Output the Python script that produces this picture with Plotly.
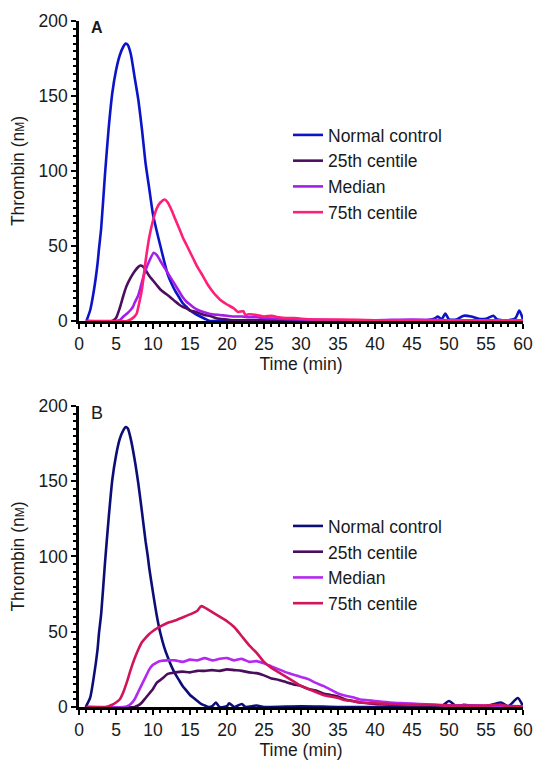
import plotly.graph_objects as go

# ---------------- Panel A data ----------------
a_normal_t = [1, 1.5, 2, 2.5, 2.7, 3, 3.5, 4, 4.5, 5, 5.5, 6, 6.3, 6.6, 7, 7.5, 8, 8.5, 9, 9.5, 10,
              10.5, 11, 11.5, 12, 12.5, 13, 13.5, 14, 14.5, 15, 16, 17, 17.7, 20, 25, 30, 35, 40, 45,
              47, 48, 48.5, 49, 49.5, 50, 51, 52, 53, 54, 55, 56, 56.5, 58, 59, 59.5, 60]
a_normal_v = [0, 7, 20, 38, 48, 62, 97, 128, 152, 167, 177, 183, 185, 184, 178, 163, 148, 128, 105, 88, 71,
              60, 50, 40, 31, 25, 20, 16, 12, 9.5, 7, 4, 1.5, 0, 0.5, 0, 0.5, 0, 0.5, 0,
              0.5, 1.5, 3, 1, 5, 1, 1, 3.5, 3, 1.5, 1.5, 3.5, 1, 0.5, 2, 7, 1]

a_p25_t = [1, 4.5, 5, 5.5, 6, 6.4, 7, 7.5, 8, 8.3, 8.6, 9, 9.5, 10, 10.5, 11, 11.5, 12.3, 13, 13.5,
           14, 14.5, 15, 15.5, 16.4, 17, 17.7, 18.5, 19, 20, 21, 25, 30, 40, 50, 60]
a_p25_v = [0, 0, 2, 8.5, 17, 23, 29, 33, 36, 37, 36.5, 34, 30, 27, 24, 21, 19, 16, 13, 11,
           9.5, 8.5, 7, 6.5, 5, 4, 3.3, 2, 1.5, 1, 0.5, 0.5, 0.5, 0.5, 0.5, 0.5]

a_med_t = [1, 5, 5.5, 6, 6.5, 7, 7.3, 7.5, 8, 8.24, 8.5, 9, 9.5, 10.1, 10.5, 11, 11.5, 12, 12.3, 13,
           13.5, 14, 14.5, 15, 15.5, 16, 16.8, 17.5, 18, 19, 20, 21, 22, 23, 24, 25, 27, 30, 35, 40,
           45, 50, 55, 60]
a_med_v = [0, 0, 0.5, 3, 5, 7.5, 9.5, 12, 17, 21, 26, 34, 40, 45.5, 44, 40, 36, 32, 29.5, 24,
           20, 16, 13, 11, 9, 7.5, 6, 5, 4.5, 4, 3.5, 3, 3, 2.5, 2.5, 2, 1.5, 1, 0.5, 0.5,
           1, 0.5, 0.5, 0.5]

a_p75_t = [1, 6.5, 7, 7.5, 7.8, 8, 8.5, 9, 9.5, 10, 10.5, 11, 11.6, 12, 12.5, 13, 13.6, 14, 14.5, 15,
           15.5, 16, 16.5, 17.3, 18, 18.5, 19.1, 20, 20.9, 21.5, 22.2, 22.5, 23, 24, 25, 26, 27, 28,
           29, 30, 32, 35, 40, 45, 50, 55, 60]
a_p75_v = [0, 0, 1, 3, 5, 9, 21, 40, 56, 67, 75, 79, 81, 79, 74, 68, 61, 56, 51, 46,
           41, 36, 32, 25, 20, 17, 14, 11, 8.5, 6, 6.5, 4, 4.5, 4, 3, 3.5, 2.5, 2,
           2, 1.5, 1, 1, 0.5, 0.5, 0.5, 0.5, 0.5]

# ---------------- Panel B data ----------------
b_normal_t = [0.9, 1.5, 2, 2.5, 2.7, 3, 3.5, 4, 4.5, 5, 5.5, 6, 6.3, 6.6, 7, 7.5, 8, 8.5, 9, 9.3,
              9.5, 10, 10.5, 11, 11.5, 12, 12.5, 13, 13.5, 14, 14.5, 15, 15.5, 16, 16.5, 17, 17.5,
              18, 18.5, 19, 20, 20.3, 21, 22, 22.5, 24, 25, 30, 35, 40, 45, 48, 49, 50, 51, 52,
              53, 55, 57, 58, 59.3, 60]
b_normal_v = [0, 6, 20, 38, 49, 62, 95, 125, 151, 167, 178, 184, 186, 185, 178, 165, 149, 130, 110, 100,
              92, 76, 61, 49, 40, 33, 27, 22, 18, 14, 11, 8, 6, 4, 2, 1, 0,
              0.5, 3, 0, 0.5, 2.5, 0, 2, 0, 1, 0, 0.5, 0, 0, 0, 1, 0.5, 4, 0.5, 1.5,
              1, 0.5, 3, 0.5, 6, 0.5]

b_p25_t = [1, 7.5, 8, 8.5, 9, 9.5, 10, 10.5, 11, 11.5, 12, 13, 14, 15, 16, 17, 18, 19, 20, 21, 22,
           23, 24, 25, 26, 27, 28, 29, 30, 31, 32, 33, 34, 35, 36, 37, 38, 39, 40, 42, 45, 50, 55, 60]
b_p25_v = [0, 0, 1, 3, 6, 9, 12, 16, 18, 20, 22, 23, 23.5, 23, 24, 24, 24.5, 24, 25, 24.5, 24,
           23, 22.5, 21, 19, 18, 16.5, 15, 14, 12, 11, 9, 8, 7, 5, 4, 3, 2.5, 2, 1.5, 1, 1, 0.5, 0.5]

b_med_t = [1, 6, 6.5, 7, 7.5, 8, 8.5, 9, 9.5, 10, 10.5, 11, 12, 13, 14, 15, 16, 17, 18, 19, 20, 21,
           22, 23, 24, 25, 26, 27, 28, 29, 30, 31, 32, 33, 34, 35, 36, 37, 38, 39, 40, 42, 44, 46,
           48, 50, 55, 60]
b_med_v = [0, 0, 0.5, 2, 5, 10, 15, 20, 25, 28, 29.5, 30.5, 31, 31, 30, 31.5, 31, 32.5, 31, 32, 32.5, 31,
           32, 30, 30.5, 29, 27, 25, 23, 21.5, 20, 18.5, 16, 14, 11.5, 9, 7.5, 6.5, 5, 4.5, 4, 3, 2.5, 2,
           1.5, 1, 1, 0.5]

b_p75_t = [1, 3.5, 4, 4.5, 5, 5.5, 6, 6.5, 7, 7.5, 8, 8.5, 9, 9.5, 10, 11, 12, 13, 14, 15, 16, 16.5,
           17, 18, 19, 20, 21, 22, 23, 24, 25, 26, 27, 28, 29, 30, 31, 32, 33, 34, 35, 36, 37, 38,
           40, 42, 45, 48, 50, 55, 57, 58, 60]
b_p75_v = [0, 0, 0.5, 1.5, 3, 5, 10, 17, 25, 32, 38, 43, 46, 48.5, 50.5, 53.5, 56, 57.5, 59.5, 61.5, 64, 67,
           66, 63, 60, 57, 53, 47, 41, 36, 30, 26, 23, 20, 17, 14, 12, 10, 8, 7, 6, 4.5, 4, 3,
           2.5, 2, 1.5, 1.5, 1, 1, 1.5, 0.5, 0.5]

series_names = ["Normal control", "25th centile", "Median", "75th centile"]
colors_a = ["#0c14c8", "#4b0f5e", "#a51ee8", "#ff1e78"]
colors_b = ["#0d0d78", "#4a0d5a", "#b428f0", "#d2145a"]

x_ticks = [0, 5, 10, 15, 20, 25, 30, 35, 40, 45, 50, 55, 60]
y_ticks = [0, 50, 100, 150, 200]

FONT = "Liberation Sans, Arial, sans-serif"
FS = 17.5

fig = go.Figure()

panel_a = [(a_normal_t, a_normal_v), (a_p25_t, a_p25_v), (a_med_t, a_med_v), (a_p75_t, a_p75_v)]
panel_b = [(b_normal_t, b_normal_v), (b_p25_t, b_p25_v), (b_med_t, b_med_v), (b_p75_t, b_p75_v)]

for i, (t, v) in enumerate(panel_a):
    fig.add_trace(go.Scatter(x=t, y=v, mode="lines", name=series_names[i],
                             line=dict(color=colors_a[i], width=2.6, shape="spline", smoothing=0.6),
                             xaxis="x", yaxis="y", legend="legend", legendgroup="a%d" % i))
for i, (t, v) in enumerate(panel_b):
    fig.add_trace(go.Scatter(x=t, y=v, mode="lines", name=series_names[i],
                             line=dict(color=colors_b[i], width=2.6, shape="spline", smoothing=0.6),
                             xaxis="x2", yaxis="y2", legend="legend2", legendgroup="b%d" % i))

axis_common = dict(
    showline=True, linecolor="black", linewidth=2.5, ticks="outside", ticklen=5, tickwidth=2,
    tickcolor="black", showgrid=False, zeroline=False, ticklabeloverflow="allow",
    tickfont=dict(family=FONT, size=FS, color="#1a1a1a"),
)

xaxis_common = dict(axis_common, range=[0, 60], tickmode="array", tickvals=x_ticks, tickangle=0,
                    minor=dict(dtick=1, ticks="outside", ticklen=3, tickwidth=1.5, tickcolor="black"))
yaxis_common = dict(axis_common, range=[0, 200], tickmode="array", tickvals=y_ticks,
                    minor=dict(dtick=5, ticks="outside", ticklen=3, tickwidth=1.5, tickcolor="black"))

ytitle = "Thrombin (n<span style='font-size:12px'>M</span>)"

legend_common = dict(
    font=dict(family=FONT, size=FS, color="#1a1a1a"),
    bgcolor="rgba(0,0,0,0)",
    xanchor="left", yanchor="top", tracegroupgap=0, itemwidth=30,
)

fig.update_layout(
    width=533, height=760,
    margin=dict(l=79, r=10, t=21, b=53, autoexpand=False),
    paper_bgcolor="white", plot_bgcolor="white",
    font=dict(family=FONT, size=FS, color="#1a1a1a"),
    xaxis=dict(xaxis_common, domain=[0, 1], anchor="y",
               title=dict(text="Time (min)", font=dict(family=FONT, size=FS), standoff=6)),
    yaxis=dict(yaxis_common, domain=[0.5627, 1], anchor="x",
               title=dict(text=ytitle, font=dict(family=FONT, size=FS), standoff=10)),
    xaxis2=dict(xaxis_common, domain=[0, 1], anchor="y2",
                title=dict(text="Time (min)", font=dict(family=FONT, size=FS), standoff=6)),
    yaxis2=dict(yaxis_common, domain=[0, 0.4388], anchor="x2",
                title=dict(text=ytitle, font=dict(family=FONT, size=FS), standoff=10)),
    legend=dict(legend_common, x=0.4707, y=0.860),
    legend2=dict(legend_common, x=0.4707, y=0.290),
    showlegend=True,
    annotations=[
        dict(text="<b>A</b>", x=0.04, y=0.977, xref="x domain", yref="y domain",
             xanchor="center", yanchor="middle",
             showarrow=False, font=dict(family=FONT, size=16, color="#1a1a1a")),
        dict(text="B", x=0.04, y=0.977, xref="x2 domain", yref="y2 domain",
             xanchor="center", yanchor="middle",
             showarrow=False, font=dict(family=FONT, size=18, color="#1a1a1a")),
    ],
)

fig.write_html(
    "out.html",
    config={"displayModeBar": False},
    post_script="document.body.style.margin='0';document.body.style.overflow='hidden';",
)
